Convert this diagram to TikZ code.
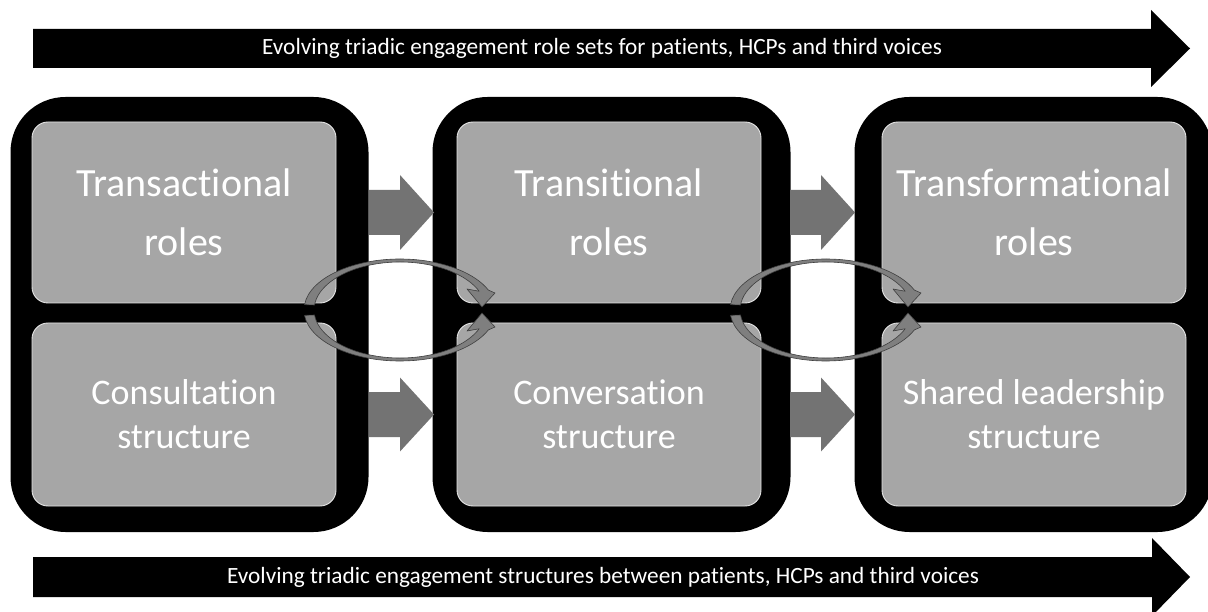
\documentclass[tikz,border=0pt]{standalone}
\usepackage{fontspec}
\setmainfont{Carlito}[Ligatures=CommonOff]
\definecolor{boxgray}{HTML}{A6A6A6}
\definecolor{edgegray}{HTML}{E4E4E4}
\definecolor{arrowgray}{HTML}{737373}
\definecolor{cycgray}{HTML}{7F7F7F}
\definecolor{cycedge}{HTML}{3F3F3F}
\newcommand{\cyclearrows}[1]{%
  \begin{scope}[xshift=#1pt]
    \filldraw[cyc] (400,310) ++(186:96 and 51)
      arc[start angle=186, end angle=337, x radius=96, y radius=51]
      -- (495,293) -- (482,307) -- (467,289) -- (479.2,291.25)
      arc[start angle=337, end angle=186, x radius=86, y radius=48] -- cycle;
    \filldraw[cyc] (400,310) ++(174:96 and 51)
      arc[start angle=174, end angle=23, x radius=96, y radius=51]
      -- (495,327) -- (482,313) -- (467,331) -- (479.2,328.75)
      arc[start angle=23, end angle=174, x radius=86, y radius=48] -- cycle;
  \end{scope}}
\begin{document}
\begin{tikzpicture}[x=1pt,y=-1pt,
  outerbox/.style={fill=black, draw=none, rounded corners=55pt, minimum width=358pt, minimum height=435pt, inner sep=0pt},
  graybox/.style={fill=boxgray, draw=edgegray, line width=0.9pt, rounded corners=16pt, minimum width=304pt, inner sep=0pt, text=white, align=center},
  upperbox/.style={graybox, minimum height=181pt, font=\fontsize{40}{59}\selectfont},
  lowerbox/.style={graybox, minimum height=183pt, font=\fontsize{36}{44}\selectfont},
  bandtext/.style={text=white, font=\fontsize{23.3}{27}\selectfont, inner sep=0pt},
  blockarrow/.style={fill=arrowgray},
  cyc/.style={fill=cycgray, draw=cycedge, line width=0.6pt, line join=round}
]
\useasboundingbox (0,0) rectangle (1208,612);

% big black frames
\node[outerbox] (o1) at (189.5,314.5) {};
\node[outerbox] (o2) at (611.5,314.5) {};
\node[outerbox] (o3) at (1033.5,314.5) {};

% gray boxes
\node[upperbox] (t1) at (184,212.5) {Transactional\\roles};
\node[upperbox] (t2) at (609,212.5) {Transitional\\roles};
\node[upperbox] (t3) at (1034,212.5) {Transformational\\roles};
\node[lowerbox] (s1) at (184,414.5) {Consultation\\structure};
\node[lowerbox] (s2) at (609,414.5) {Conversation\\structure};
\node[lowerbox] (s3) at (1034,414.5) {Shared leadership\\structure};

% block arrows between frames
\foreach \x in {369,790}{
  \fill[blockarrow] (\x,190) -- (\x+31,190) -- (\x+31,175) -- (\x+65,212.5) -- (\x+31,250) -- (\x+31,235) -- (\x,235) -- cycle;
  \fill[blockarrow] (\x,392) -- (\x+31,392) -- (\x+31,377.5) -- (\x+65,414.5) -- (\x+31,451.5) -- (\x+31,437) -- (\x,437) -- cycle;
}

% cyclic arrows
\cyclearrows{0}
\cyclearrows{426}

% top and bottom arrows
\fill (33,29) -- (1151,29) -- (1151,10) -- (1190,48.5) -- (1151,87) -- (1151,68) -- (33,68) -- cycle;
\node[bandtext] (toplabel) at (602,48.5) {Evolving triadic engagement role sets for patients, HCPs and third voices};
\fill (33,557) -- (1152,557) -- (1152,538) -- (1190,577) -- (1152,616) -- (1152,597) -- (33,597) -- cycle;
\node[bandtext] (bottomlabel) at (603,577) {Evolving triadic engagement structures between patients, HCPs and third voices};
\end{tikzpicture}
\end{document}
